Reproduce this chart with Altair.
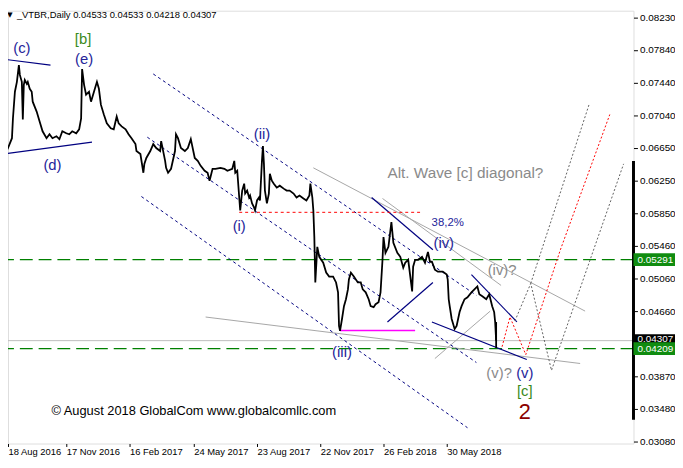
import altair as alt
import pandas as pd

# ---------------- price path (bar index, close) ----------------
bars = [0, 3, 6, 8, 10, 11, 13, 15, 17, 18, 20, 21, 22, 23, 25, 26, 28, 30, 31, 35, 38, 41, 45, 48, 51,
        55, 58, 61, 65, 68, 71, 75, 78, 80, 81, 83, 85, 88, 90, 93, 96, 98, 100, 103, 106, 110, 113,
        116, 118, 121, 125, 128, 131, 135, 136, 140, 143, 144, 146, 150, 153, 156, 160, 161, 165, 166,
        168, 171, 175, 176, 178, 181, 185, 188, 191, 195, 198, 201, 205, 208, 210, 213, 216, 221, 225,
        228, 233, 235, 236, 238, 240, 241, 243, 245, 246, 248, 250, 251, 253, 255, 256, 258, 260, 261,
        263, 264, 265, 266, 268, 270, 271, 273, 275, 278, 281, 285, 288, 291, 295, 298, 301, 305, 308,
        311, 312, 314, 315, 316, 317, 319, 321, 323, 325, 328, 331, 335, 338, 340, 341, 342, 344, 346,
        348, 350, 351, 353, 356, 360, 363, 365, 368, 371, 373, 376, 378, 381, 383, 385, 386, 388, 391,
        394, 396, 400, 403, 406, 408, 411, 415, 416, 418, 421, 425, 428, 431, 433, 435, 438, 441, 446,
        450, 451, 452, 453, 455, 458, 460, 463, 465, 468, 471, 475, 478, 481, 483, 486, 490, 493, 495,
        496, 498, 499, 500]
close = [0.06672, 0.06696, 0.06648, 0.06708, 0.06768, 0.07008, 0.07333, 0.07453, 0.07657, 0.07537,
         0.07453, 0.06996, 0.07417, 0.07477, 0.07429, 0.07453, 0.07369, 0.07333, 0.07212, 0.07092,
         0.06972, 0.06852, 0.06768, 0.06816, 0.06768, 0.06792, 0.06756, 0.06852, 0.06828, 0.06816,
         0.06852, 0.06828, 0.06876, 0.07008, 0.07609, 0.07417, 0.07297, 0.07333, 0.07212, 0.07333,
         0.07453, 0.07369, 0.07176, 0.07056, 0.06948, 0.06888, 0.06876, 0.07032, 0.06948, 0.06912,
         0.06876, 0.06816, 0.06768, 0.06696, 0.06612, 0.06576, 0.06348, 0.06456, 0.06528, 0.06612,
         0.06696, 0.06648, 0.06612, 0.06732, 0.06492, 0.06408, 0.06348, 0.06396, 0.06612, 0.06816,
         0.06768, 0.06648, 0.06612, 0.06648, 0.06756, 0.06528, 0.06492, 0.06432, 0.06372, 0.06348,
         0.06251, 0.06396, 0.06396, 0.06408, 0.06396, 0.06372, 0.06396, 0.06492, 0.06348, 0.06372,
         0.06047, 0.05891, 0.06131, 0.06215, 0.06095, 0.06131, 0.06047, 0.06071, 0.05975, 0.05927,
         0.05891, 0.06011, 0.06047, 0.06011, 0.06492, 0.06672, 0.06456, 0.06131, 0.05975, 0.06095,
         0.06336, 0.06251, 0.06215, 0.06167, 0.06191, 0.06155, 0.06131, 0.06131, 0.06095, 0.06047,
         0.06071, 0.06035, 0.06011, 0.06071, 0.06215, 0.06047, 0.05891, 0.05567, 0.05014, 0.05447,
         0.05326, 0.05290, 0.05254, 0.05134, 0.05086, 0.05086, 0.05014, 0.04894, 0.04486, 0.04425,
         0.04570, 0.04726, 0.04810, 0.04930, 0.05050, 0.05134, 0.05086, 0.05014, 0.05014, 0.04930,
         0.04894, 0.04810, 0.04726, 0.04714, 0.04750, 0.04774, 0.04894, 0.05290, 0.05567, 0.05374,
         0.05447, 0.05747, 0.05495, 0.05374, 0.05326, 0.05194, 0.05254, 0.05290, 0.04906, 0.05206,
         0.05290, 0.05290, 0.05326, 0.05254, 0.05386, 0.05266, 0.05266, 0.05170, 0.05146, 0.05146,
         0.05110, 0.05050, 0.04810, 0.04726, 0.04570, 0.04449, 0.04486, 0.04654, 0.04726, 0.04810,
         0.04834, 0.04894, 0.04930, 0.04966, 0.04870, 0.04846, 0.04810, 0.04870, 0.04774, 0.04726,
         0.04654, 0.04534, 0.04307]
last_bar = [500]
last_high = [0.04533]
last_low = [0.04218]

# ---------------- axes ----------------
date_bars = [6, 65, 129, 194, 258, 322, 386, 450]
date_labels = ["18 Aug 2016", "17 Nov 2016", "16 Feb 2017", "24 May 2017", "23 Aug 2017",
               "22 Nov 2017", "26 Feb 2018", "30 May 2018"]
price_ticks = [0.0308, 0.0348, 0.0387, 0.0466, 0.0506, 0.0546, 0.0585, 0.0625, 0.0665,
               0.0704, 0.0744, 0.0784, 0.0823]

# ---------------- levels ----------------
green_levels = [0.05291, 0.04209]
current_level = [0.04307]
side_bar = [(0.06492, 0.03344)]

# ---------------- drawn lines (bar1, price1, bar2, price2) ----------------
navy_solid = [(1, 0.07729, 49, 0.07657), (1, 0.06576, 91, 0.06720),
              (374, 0.06047, 436, 0.05411), (390, 0.04534, 436, 0.05014),
              (475, 0.05110, 521, 0.04534), (435, 0.04534, 531, 0.04077)]
navy_dotted = [(153, 0.07549, 480, 0.04858), (147, 0.06780, 480, 0.04041),
               (141, 0.06059, 471, 0.03248)]
gray_solid = [(315, 0.06408, 590, 0.04666), (385, 0.06035, 505, 0.04978),
              (206, 0.04594, 585, 0.04029), (438, 0.04089, 494, 0.04666)]
red_dashed = [(240, 0.05867, 423, 0.05867)]
magenta_line = [(342, 0.04431, 418, 0.04431)]

red_path_bar = [506, 514, 530, 565, 615]
red_path_price = [0.04233, 0.04594, 0.04137, 0.05411, 0.07056]
gray_path_a_bar = [519, 535, 556, 629]
gray_path_a_price = [0.04546, 0.05002, 0.03945, 0.06456]
gray_path_b_bar = [535, 594]
gray_path_b_price = [0.05002, 0.07176]

# ---------------- labels ----------------
navy_text = ["(c)", "(e)", "(d)", "(i)", "(ii)", "(iii)", "(iv)", "(v)"]
navy_bar = [20, 83, 51, 240, 263, 344, 447, 529]
navy_price = [0.07861, 0.07729, 0.06444, 0.05699, 0.06816, 0.04173, 0.05495, 0.03909]
green_text = ["[b]", "[c]"]
green_bar = [82, 529]
green_price = [0.07969, 0.03693]
gray_text = ["(iv)?", "(v)?"]
gray_bar = [506, 503]
gray_price = [0.05170, 0.03909]

W, H = 633, 438
xs = alt.Scale(domain=[6, 639], nice=False, zero=False)
ys = alt.Scale(domain=[0.03056, 0.08318], nice=False, zero=False)

label_expr = " : ".join(f"datum.value == {b} ? '{l}'" for b, l in zip(date_bars, date_labels)) + " : ''"
x_axis = alt.Axis(values=date_bars, labelExpr=label_expr, orient="bottom", grid=False, domain=False,
                  ticks=True, tickSize=3, tickColor="black", labelAlign="left", labelPadding=0,
                  labelFont="Liberation Sans", labelFontSize=9.5, labelColor="black",
                  labelOverlap=False, labelBound=False, labelFlush=False, title=None)
y_axis = alt.Axis(values=price_ticks, format=".5f", orient="right", grid=False, domain=False,
                  ticks=True, tickSize=4, tickColor="black", labelPadding=2,
                  labelFont="Liberation Sans", labelFontSize=10, labelColor="black",
                  labelOverlap=False, labelBound=False, labelFlush=False, title=None)


def X(f):
    return alt.X(f, scale=xs, axis=x_axis)


def Y(f):
    return alt.Y(f, scale=ys, axis=y_axis)


def seg_layer(segs, color, dash=None, width=1.0):
    df = pd.DataFrame(segs, columns=["b", "p", "b2", "p2"])
    kw = dict(color=color, strokeWidth=width, clip=True)
    if dash:
        kw["strokeDash"] = dash
    return alt.Chart(df).mark_rule(**kw).encode(x=X("b:Q"), y=Y("p:Q"), x2="b2:Q", y2="p2:Q")


def path_layer(bs, ps, color, dash):
    df = pd.DataFrame({"b": bs, "p": ps, "o": list(range(len(bs)))})
    return alt.Chart(df).mark_line(color=color, strokeWidth=1, strokeDash=dash, clip=True).encode(
        x=X("b:Q"), y=Y("p:Q"), order="o:Q")


def text_layer(texts, bs, ps, color, size, align="center"):
    df = pd.DataFrame({"t": texts, "b": bs, "p": ps})
    return alt.Chart(df).mark_text(color=color, fontSize=size, font="Liberation Sans",
                                   align=align, baseline="middle").encode(
        x=X("b:Q"), y=Y("p:Q"), text="t:N")


price_df = pd.DataFrame({"b": bars, "p": close})
price_line = alt.Chart(price_df).mark_line(color="black", strokeWidth=1.8, clip=True).encode(
    x=X("b:Q"), y=Y("p:Q"))
last_df = pd.DataFrame({"b": last_bar, "hi": last_high, "lo": last_low})
last_rule = alt.Chart(last_df).mark_rule(color="black", strokeWidth=1.8).encode(
    x=X("b:Q"), y=Y("hi:Q"), y2="lo:Q")

green_df = pd.DataFrame({"p": green_levels})
green_rules = alt.Chart(green_df).mark_rule(color="#008000", strokeWidth=1.2, strokeDash=[13, 6]).encode(
    y=Y("p:Q"))
cur_df = pd.DataFrame({"p": current_level})
cur_rule = alt.Chart(cur_df).mark_rule(color="#bdbdbd", strokeWidth=1).encode(y=Y("p:Q"))

side_df = pd.DataFrame(side_bar, columns=["a", "z"])
side_rule = alt.Chart(side_df).mark_rule(color="black", strokeWidth=3).encode(
    x=alt.value(W), y=Y("a:Q"), y2="z:Q")

HALF = 0.00078
box_black = alt.Chart(cur_df).transform_calculate(
    top=f"datum.p + {HALF}", bot=f"datum.p - {HALF}").mark_rect(color="black").encode(
    x=alt.value(W), x2=alt.value(W + 44), y=Y("top:Q"), y2="bot:Q")
box_black_txt = alt.Chart(cur_df).mark_text(color="white", fontSize=10, font="Liberation Sans",
                                            align="left", baseline="top", dy=-7).encode(
    x=alt.value(W + 4), y=Y("p:Q"), text=alt.Text("p:Q", format=".5f"))
box_green = alt.Chart(green_df).transform_calculate(
    top=f"datum.p + {HALF}", bot=f"datum.p - {HALF}").mark_rect(color="#108c10").encode(
    x=alt.value(W), x2=alt.value(W + 44), y=Y("top:Q"), y2="bot:Q")
box_green_txt = alt.Chart(green_df).mark_text(color="white", fontSize=10, font="Liberation Sans",
                                              align="left", baseline="middle").encode(
    x=alt.value(W + 4), y=Y("p:Q"), text=alt.Text("p:Q", format=".5f"))

title_df = pd.DataFrame({"t": ["_VTBR,Daily  0.04533 0.04533 0.04218 0.04307"]})
title_txt = alt.Chart(title_df).mark_text(color="black", fontSize=9.5, font="Liberation Sans",
                                          align="left", baseline="middle").encode(
    x=alt.value(9), y=alt.value(4), text="t:N")
tri_df = pd.DataFrame({"t": ["\u25bc"]})
tri_txt = alt.Chart(tri_df).mark_text(color="black", fontSize=7, font="DejaVu Sans",
                                      align="center", baseline="middle").encode(
    x=alt.value(2), y=alt.value(4), text="t:N")

layers = [
    cur_rule,
    green_rules,
    seg_layer(gray_solid, "#a6a6a6", None, 1),
    seg_layer(navy_dotted, "#000080", [3, 3], 1),
    seg_layer(navy_solid, "#000080", None, 1.2),
    seg_layer(red_dashed, "#ff0000", [3, 3], 1),
    seg_layer(magenta_line, "#ff00ff", None, 1.5),
    path_layer(gray_path_a_bar, gray_path_a_price, "#606060", [2, 2]),
    path_layer(gray_path_b_bar, gray_path_b_price, "#606060", [2, 2]),
    path_layer(red_path_bar, red_path_price, "#ff0000", [2, 2]),
    price_line,
    last_rule,
    text_layer(navy_text, navy_bar, navy_price, "#25259a", 15),
    text_layer(["38,2%"], [451], [0.05735], "#25259a", 11.5),
    text_layer(green_text, green_bar, green_price, "#3a8a1c", 15),
    text_layer(gray_text, gray_bar, gray_price, "#8a8a8a", 15),
    text_layer(["Alt. Wave [c] diagonal?"], [390], [0.06348], "#8a8a8a", 15.5, "left"),
    text_layer(["2"], [529], [0.03440], "#8b0000", 22),
    text_layer(["\u00a9 August 2018 GlobalCom www.globalcomllc.com"], [50], [0.03452], "black", 13, "left"),
    side_rule,
    box_black, box_black_txt,
    box_green, box_green_txt,
    title_txt, tri_txt,
]

chart = alt.layer(*layers).properties(
    width=W, height=H,
    autosize=alt.AutoSizeParams(type="none"),
    padding={"left": 0, "top": 0, "right": 42, "bottom": 20},
    background="white",
).configure_view(stroke="black", strokeWidth=1).configure(font="Liberation Sans")

chart.save("out.html", embed_options={"renderer": "svg", "actions": False})
